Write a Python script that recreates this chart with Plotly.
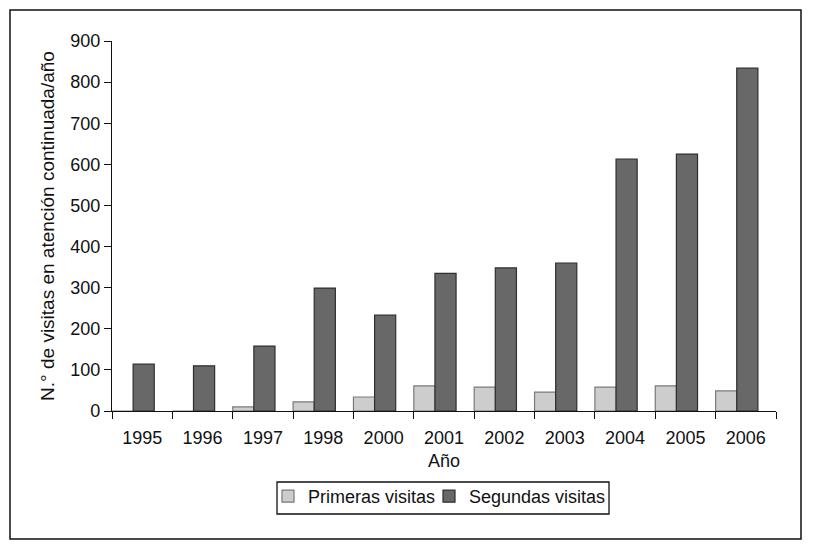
import plotly.graph_objects as go

years = ["1995", "1996", "1997", "1998", "2000", "2001", "2002", "2003", "2004", "2005", "2006"]
primeras = [0, 0, 10, 22, 34, 61, 58, 46, 58, 61, 49]
segundas = [114, 110, 158, 299, 233, 335, 348, 360, 613, 625, 834]
y_ticks = [0, 100, 200, 300, 400, 500, 600, 700, 800, 900]

OFF = 8  # page body margin
W, H = 813 - OFF, 554 - OFF
L, R, T, B = 112 - OFF, 776 - OFF, 41 - OFF, 411 - OFF
pw, ph = R - L, B - T


def px_x(x):
    return (x - OFF - L) / pw


def px_y(y):
    return (B - (y - OFF)) / ph


fig = go.Figure()
fig.add_trace(go.Bar(
    x=years, y=primeras, name="Primeras visitas",
    marker=dict(color="#cdcdcd", line=dict(color="#7a7a7a", width=1.2)),
    offset=-0.5, width=0.35, legend="legend",
))
fig.add_trace(go.Bar(
    x=years, y=segundas, name="Segundas visitas",
    marker=dict(color="#686868", line=dict(color="#2e2e2e", width=1.2)),
    offset=-0.15, width=0.35, legend="legend2",
))

font = dict(family="Liberation Sans, Arial, sans-serif", size=18, color="#111")
legend_style = dict(
    orientation="h", xanchor="left", yanchor="top",
    borderwidth=0, bgcolor="rgba(0,0,0,0)",
    font=dict(size=18), itemwidth=30, tracegroupgap=0,
)

fig.update_layout(
    width=W, height=H,
    margin=dict(l=L, r=W - R, t=T, b=H - B, autoexpand=False),
    paper_bgcolor="white", plot_bgcolor="white",
    font=font,
    barmode="overlay",
    showlegend=True,
    legend=dict(x=px_x(268), y=px_y(478), **legend_style),
    legend2=dict(x=px_x(429), y=px_y(478), **legend_style),
    xaxis=dict(
        type="category",
        tickson="boundaries",
        ticks="outside", ticklen=7, tickcolor="#111", tickwidth=1.3,
        ticklabelstandoff=10,
        showline=True, linecolor="#111", linewidth=1.3,
        showgrid=False, zeroline=False,
        range=[-0.5, len(years) - 0.5],
        automargin=False,
        title=dict(text="Año", standoff=7, font=dict(size=18)),
        tickfont=dict(size=18),
    ),
    yaxis=dict(
        range=[0, 900],
        tickvals=y_ticks,
        ticks="outside", ticklen=7, tickcolor="#111", tickwidth=1.3,
        showline=True, linecolor="#111", linewidth=1.3,
        showgrid=False, zeroline=False,
        automargin=False,
        title=dict(text="N.° de visitas en atención continuada/año", standoff=10, font=dict(size=19)),
        tickfont=dict(size=18),
    ),
    shapes=[
        dict(
            type="rect", xref="paper", yref="paper",
            x0=px_x(10), x1=px_x(801), y0=px_y(539), y1=px_y(10),
            line=dict(color="#111", width=1.5), fillcolor="rgba(0,0,0,0)",
            layer="below",
        ),
        dict(
            type="rect", xref="paper", yref="paper",
            x0=px_x(277), x1=px_x(609), y0=px_y(514), y1=px_y(482),
            line=dict(color="#111", width=1.3), fillcolor="rgba(0,0,0,0)",
            layer="below",
        ),
    ],
)

fig.write_html("out.html")
